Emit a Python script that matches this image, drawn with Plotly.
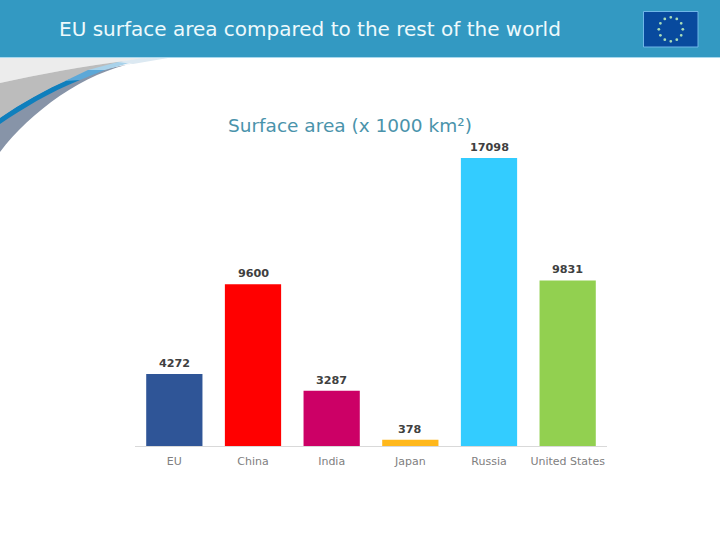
import math
import plotly.graph_objects as go

categories = ["EU", "China", "India", "Japan", "Russia", "United States"]
values = [4272, 9600, 3287, 378, 17098, 9831]
colors = ["#2f5597", "#ff0000", "#cc0066", "#ffb81c", "#33ccff", "#92d050"]
title_text = "EU surface area compared to the rest of the world"
subtitle_text = "Surface area (x 1000 km²)"

W, H = 720, 540
px = lambda x: x / W
py = lambda y: 1 - y / H


def path(cmds):
    out = []
    for c in cmds:
        if isinstance(c, str):
            out.append(c)
        else:
            out.append(f"{px(c[0]):.5f},{py(c[1]):.5f}")
    return " ".join(out)


def shape_path(cmds, fill):
    return dict(type="path", xref="paper", yref="paper", layer="below",
                path=path(cmds), fillcolor=fill, line=dict(width=0))


def rect(x0, y0, x1, y1, fill, line=None):
    return dict(type="rect", xref="paper", yref="paper", layer="below",
                x0=px(x0), x1=px(x1), y0=py(y0), y1=py(y1), fillcolor=fill,
                line=dict(width=1, color=line) if line else dict(width=0))


shapes = [
    # swoosh below the header
    shape_path(["M", (0, 58), "L", (168, 58), "L", (125, 61), "C", (85, 66), (40, 74), (0, 83), "Z"], "#ececec"),
    shape_path(["M", (0, 83), "C", (40, 74), (85, 66), (125, 61), "L", (70, 79), "C", (45, 90), (22, 103), (0, 118), "Z"], "#bcbcbc"),
    shape_path(["M", (0, 152), "C", (30, 112), (85, 72), (135, 63), "L", (100, 70), "L", (70, 79), "C", (45, 90), (22, 103), (0, 118), "Z"], "#8794a8"),
    shape_path(["M", (0, 124), "C", (22, 109), (50, 92), (80, 80), "L", (70, 79), "C", (45, 90), (22, 103), (0, 118), "Z"], "#0f7fbd"),
    shape_path(["M", (65, 81), "L", (80, 80), "C", (90, 76), (100, 72), (105, 70), "L", (88, 70), "Z"], "#5ca8d8"),
    shape_path(["M", (88, 70), "L", (105, 70), "C", (115, 67), (125, 64), (133, 62), "L", (118, 62), "Z"], "#a9d2ea"),
    shape_path(["M", (118, 62), "L", (133, 64), "L", (168, 58), "L", (140, 58.5), "Z"], "#dce9f2"),
    # header
    rect(0, 0, W, 57, "#3399c2"),
    rect(0, 57, W, 58, "#a8d8ee"),
    # flag
    rect(643.5, 11.5, 698, 47, "#084a9e", "#6fb7e8"),
]
for i in range(12):
    a = 2 * math.pi * i / 12
    cx, cy = 670.8 + 12 * math.sin(a), 29.3 - 12 * math.cos(a)
    shapes.append(dict(type="circle", xref="paper", yref="paper", layer="below",
                       x0=px(cx - 1.4), x1=px(cx + 1.4), y0=py(cy + 1.4), y1=py(cy - 1.4),
                       fillcolor="#a8dcb8", line=dict(width=0)))

fig = go.Figure(go.Bar(
    x=categories, y=values, marker=dict(color=colors, line=dict(width=0)),
    width=0.715, hoverinfo="x+y",
))

annotations = [
    dict(text=title_text, xref="paper", yref="paper", x=px(57), y=py(29),
         xanchor="left", yanchor="middle", showarrow=False,
         font=dict(family="DejaVu Sans", size=20, color="#eef9fc")),
    dict(text=subtitle_text, xref="paper", yref="paper", x=px(350), y=py(125),
         xanchor="center", yanchor="middle", showarrow=False,
         font=dict(family="DejaVu Sans", size=18.5, color="#4a93ab")),
]
for c, v in zip(categories, values):
    annotations.append(dict(text=str(v), x=c, y=v, xref="x", yref="y", xanchor="center",
                            yanchor="bottom", yshift=2, showarrow=False,
                            font=dict(family="DejaVu Sans", size=11.2, color="#404040", weight="bold")))

fig.update_layout(
    width=W, height=H, margin=dict(l=0, r=0, t=0, b=0),
    paper_bgcolor="white", plot_bgcolor="rgba(0,0,0,0)",
    showlegend=False, shapes=shapes, annotations=annotations,
    xaxis=dict(domain=[px(135), px(607)], type="category", showgrid=False, showline=True,
               linecolor="#d9d9d9", linewidth=1, ticks="", ticklabelstandoff=5,
               tickfont=dict(family="DejaVu Sans", size=11, color="#808080")),
    yaxis=dict(domain=[py(446), py(130)], range=[0, 17098 * 316 / 288], visible=False),
)

fig.write_html("out.html", post_script="document.body.style.margin='0';", config=dict(displayModeBar=False))
